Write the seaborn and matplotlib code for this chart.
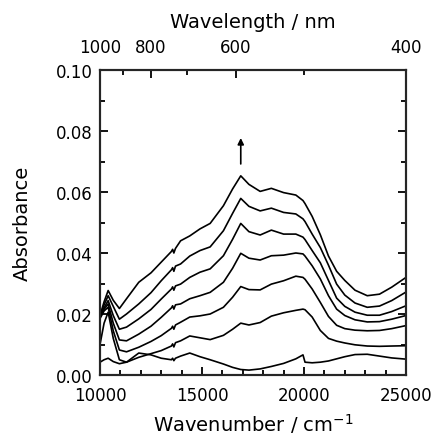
import numpy as np
import pandas as pd
import matplotlib
matplotlib.use("Agg")
import matplotlib.pyplot as plt
import seaborn as sns

wavenumber = [10000, 10200, 10400, 10650, 10950, 11300, 11900, 12500, 13000, 13500,
              13560, 13620, 13700, 13950, 14400, 14900, 15400, 16050, 16500, 16900,
              17300, 17850, 18400, 19000, 19600, 19950, 20050, 20400, 20800, 21200,
              21600, 22000, 22500, 23100, 23700, 24300, 25000]

s0 = [0.0042, 0.0050, 0.0055, 0.0044, 0.0037, 0.0042, 0.0072, 0.0066, 0.0055, 0.0050,
      0.0055, 0.0047, 0.0055, 0.0062, 0.0072, 0.0060, 0.0050, 0.0036, 0.0025, 0.0018,
      0.0016, 0.0020, 0.0028, 0.0038, 0.0053, 0.0066, 0.0042, 0.0040, 0.0042, 0.0046,
      0.0053, 0.0060, 0.0067, 0.0068, 0.0062, 0.0056, 0.0052]
s1 = [0.0100, 0.0170, 0.0206, 0.0120, 0.0050, 0.0042, 0.0058, 0.0070, 0.0080, 0.0095,
      0.0102, 0.0092, 0.0106, 0.0112, 0.0128, 0.0122, 0.0116, 0.0130, 0.0150, 0.0170,
      0.0164, 0.0172, 0.0193, 0.0204, 0.0212, 0.0216, 0.0214, 0.0190, 0.0146, 0.0120,
      0.0111, 0.0105, 0.0099, 0.0095, 0.0094, 0.0095, 0.0096]
s2 = [0.0185, 0.0210, 0.0222, 0.0145, 0.0082, 0.0076, 0.0091, 0.0110, 0.0129, 0.0153,
      0.0160, 0.0150, 0.0164, 0.0173, 0.0190, 0.0194, 0.0200, 0.0222, 0.0255, 0.0290,
      0.0280, 0.0279, 0.0298, 0.0309, 0.0324, 0.0320, 0.0314, 0.0282, 0.0238, 0.0192,
      0.0163, 0.0152, 0.0147, 0.0145, 0.0146, 0.0152, 0.0162]
s3 = [0.0190, 0.0215, 0.0233, 0.0170, 0.0115, 0.0112, 0.0134, 0.0160, 0.0189, 0.0220,
      0.0227, 0.0216, 0.0230, 0.0233, 0.0250, 0.0260, 0.0271, 0.0304, 0.0350, 0.0399,
      0.0383, 0.0377, 0.0391, 0.0393, 0.0400, 0.0397, 0.0390, 0.0358, 0.0315, 0.0260,
      0.0216, 0.0195, 0.0181, 0.0174, 0.0175, 0.0183, 0.0195]
s4 = [0.0190, 0.0220, 0.0244, 0.0195, 0.0150, 0.0157, 0.0184, 0.0215, 0.0249, 0.0282,
      0.0289, 0.0278, 0.0292, 0.0298, 0.0320, 0.0337, 0.0348, 0.0391, 0.0445, 0.0497,
      0.0470, 0.0459, 0.0475, 0.0462, 0.0462, 0.0452, 0.0444, 0.0408, 0.0368, 0.0310,
      0.0252, 0.0225, 0.0206, 0.0196, 0.0196, 0.0208, 0.0227]
s5 = [0.0195, 0.0230, 0.0260, 0.0225, 0.0183, 0.0200, 0.0233, 0.0270, 0.0309, 0.0345,
      0.0352, 0.0340, 0.0357, 0.0364, 0.0390, 0.0408, 0.0420, 0.0473, 0.0530, 0.0579,
      0.0553, 0.0538, 0.0547, 0.0533, 0.0528, 0.0512, 0.0503, 0.0462, 0.0418, 0.0360,
      0.0298, 0.0262, 0.0236, 0.0222, 0.0226, 0.0244, 0.0272]
s6 = [0.0195, 0.0240, 0.0277, 0.0245, 0.0218, 0.0250, 0.0304, 0.0335, 0.0370, 0.0405,
      0.0412, 0.0400, 0.0415, 0.0440, 0.0456, 0.0479, 0.0497, 0.0555, 0.0610, 0.0653,
      0.0625, 0.0602, 0.0612, 0.0598, 0.0590, 0.0572, 0.0562, 0.0520, 0.0460, 0.0390,
      0.0340, 0.0310, 0.0278, 0.0260, 0.0265, 0.0288, 0.0320]

series = {"s0": s0, "s1": s1, "s2": s2, "s3": s3, "s4": s4, "s5": s5, "s6": s6}

top_labels = [1000, 800, 600, 400]
top_minor = [900, 700, 500]
arrow_x = 16900
arrow_y = [0.0692, 0.0777]

rows = []
for name, vals in series.items():
    for w, a in zip(wavenumber, vals):
        rows.append({"wn": w, "A": a, "curve": name})
df = pd.DataFrame(rows)

sns.set_style("ticks")
plt.rcParams["font.family"] = ["DejaVu Sans"]
plt.rcParams["mathtext.fontset"] = "dejavusans"
plt.rcParams["text.color"] = "black"
plt.rcParams["axes.labelcolor"] = "black"

fig = plt.figure(figsize=(4.34, 4.39), dpi=100)
ax = fig.add_axes([100 / 434, (439 - 376) / 439, 306 / 434, 305 / 439])

sns.lineplot(data=df, x="wn", y="A", hue="curve", units="curve", estimator=None,
             palette=["black"] * len(series), linewidth=1.2, legend=False, ax=ax)

ax.set_xlim(10000, 25000)
ax.set_ylim(0, 0.10)
ax.set_xticks([10000, 15000, 20000, 25000])
ax.set_xticks(np.arange(10000, 25001, 1000), minor=True)
ax.set_yticks(np.arange(0, 0.1001, 0.02))
ax.set_yticks(np.arange(0, 0.1001, 0.01), minor=True)
ax.set_yticklabels([f"{v:.2f}" for v in np.arange(0, 0.1001, 0.02)])
ax.tick_params(which="both", direction="in", top=False, right=True, labelsize=12,
               width=1.3, colors="black")
ax.tick_params(which="major", length=6)
ax.tick_params(which="minor", length=3.5)
ax.tick_params(axis="x", pad=8)
ax.tick_params(axis="y", pad=5)
for sp in ax.spines.values():
    sp.set_linewidth(1.5)
    sp.set_color("black")
ax.set_xlabel("Wavenumber / cm$^{-1}$", fontsize=14, color="black")
ax.xaxis.label.set_va("center")
ax.xaxis.set_label_coords(0.5, (376 - 424) / 305)
ax.set_ylabel("Absorbance", fontsize=14, color="black")
ax.yaxis.label.set_va("center")
ax.yaxis.set_label_coords((22 - 100) / 306, 0.5)

ax2 = ax.twiny()
ax2.set_xlim(ax.get_xlim())
ax2.set_xticks([1e7 / v for v in top_labels])
ax2.set_xticklabels([str(v) for v in top_labels])
ax2.set_xticks([1e7 / v for v in top_minor], minor=True)
ax2.tick_params(which="both", direction="in", labelsize=12, width=1.3, colors="black", pad=10)
ax2.tick_params(which="major", length=6)
ax2.tick_params(which="minor", length=3.5)
for sp in ax2.spines.values():
    sp.set_linewidth(1.5)
ax2.set_xlabel("Wavelength / nm", fontsize=14, color="black")
ax2.xaxis.label.set_va("center")
ax2.xaxis.set_label_coords(0.5, (376 - 22) / 305)

ax.annotate("", xy=(arrow_x, arrow_y[1]), xytext=(arrow_x, arrow_y[0]),
            arrowprops=dict(arrowstyle="-|>", color="black", lw=1.2,
                            mutation_scale=9, shrinkA=0, shrinkB=0))

fig.savefig("out.png", dpi=100)
